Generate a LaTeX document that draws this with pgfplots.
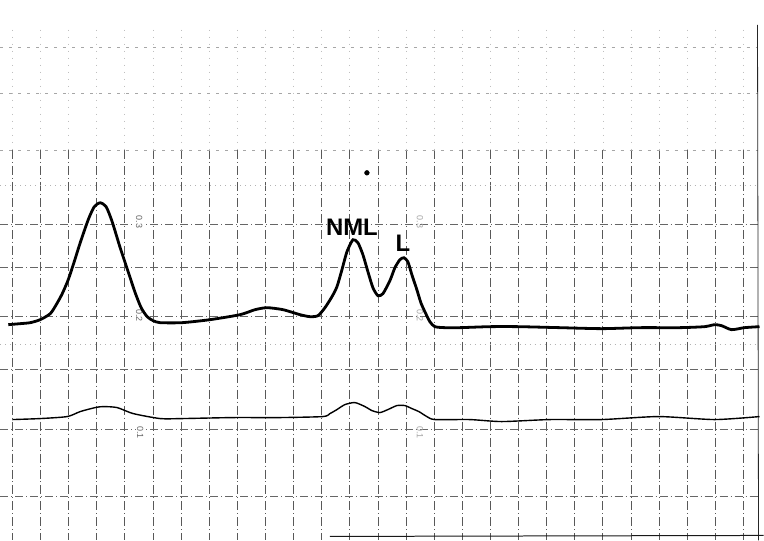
\documentclass[border=0pt]{standalone}
\usepackage{pgfplots}
\pgfplotsset{compat=1.18}
\usepackage{fontspec}
\newfontfamily\helv{Liberation Sans}
\begin{document}
\begin{tikzpicture}
\begin{axis}[
  width=764bp, height=541bp, scale only axis,
  xmin=0, xmax=764, ymin=0, ymax=541, y dir=reverse,
  axis lines=none, clip=false,
]
% background
\addplot[draw=none, fill=white, forget plot] coordinates {(0,0) (764,0) (764,541) (0,541)} -- cycle;
% vertical grid
\pgfplotsinvokeforeach{0,...,26}{
  \draw[black!25, dash pattern=on 1bp off 6bp, line width=0.6bp] (axis cs:{12+28.15*#1},30) -- (axis cs:{12+28.15*#1},150);
  \draw[black!65, dash pattern=on 9bp off 3bp on 1bp off 3bp, line width=0.7bp] (axis cs:{12+28.15*#1},150) -- (axis cs:{12+28.15*#1},541);
}
% horizontal grid
\pgfplotsinvokeforeach{47,93,150}{
  \draw[black!35, dash pattern=on 3bp off 6bp, line width=0.6bp] (axis cs:0,#1) -- (axis cs:758,#1);
}
\pgfplotsinvokeforeach{185,345}{
  \draw[black!30, dash pattern=on 1bp off 4bp, line width=0.5bp] (axis cs:0,#1) -- (axis cs:758,#1);
}
\pgfplotsinvokeforeach{225,268,317,370,430,497}{
  \draw[black!60, dash pattern=on 8bp off 3bp on 1bp off 3bp, line width=0.6bp] (axis cs:0,#1) -- (axis cs:758,#1);
}
% borders
\draw[black!85, line width=0.8bp] (axis cs:758,25) -- (axis cs:759,541);
\draw[black!90, line width=1bp] (axis cs:330,537) -- (axis cs:764,536);
% scale labels
\node[rotate=-90, font=\helv\fontsize{9}{10}\selectfont, text=black!60, fill=white, inner sep=1bp] at (axis cs:139,222) {0.3};
\node[rotate=-90, font=\helv\fontsize{9}{10}\selectfont, text=black!60, fill=white, inner sep=1bp] at (axis cs:139,316) {0.2};
\node[rotate=-90, font=\helv\fontsize{9}{10}\selectfont, text=black!60, fill=white, inner sep=1bp] at (axis cs:140,433) {0.1};
\node[rotate=-90, font=\helv\fontsize{9}{10}\selectfont, text=black!35] at (axis cs:420,222) {0.3};
\node[rotate=-90, font=\helv\fontsize{9}{10}\selectfont, text=black!35] at (axis cs:420,316) {0.2};
\node[rotate=-90, font=\helv\fontsize{9}{10}\selectfont, text=black!35] at (axis cs:420,433) {0.1};
% thick trace
\addplot[black, line width=2.8bp, smooth, tension=0.4] coordinates {
(8,325) (20,324) (30,323) (40,320) (50,314) (56,305) (62,294) (68,280) (74,262) (80,243) (88,220) (94,207) (100,203) (106,207) (112,222) (120,248) (128,272) (135,293) (141,308) (147,317) (153,321) (160,323) (182,323) (210,320) (240,315) (255,310) (267,308) (283,310) (300,315) (310,317) (318,316) (325,308) (332,297) (337,287) (342,270) (347,252) (353,240) (358,243) (363,255) (368,272) (373,288) (378,296) (383,294) (390,281) (395,268) (400,260) (404,258) (408,262) (412,275) (417,290) (421,303) (425,312) (430,322) (435,327) (445,328) (460,328) (490,327) (519,327) (560,328) (602,329) (640,328) (680,328) (705,327) (715,325) (722,326) (732,330) (745,328) (760,327)
};
% thin trace
\addplot[black, line width=1.4bp, smooth, tension=0.4] coordinates {
(12,420) (40,419) (67,417) (80,412) (95,408) (103,407) (117,408) (133,414) (160,419) (182,419) (233,418) (280,418) (323,417) (330,414) (337,410) (345,405) (355,403) (365,407) (372,411) (380,413) (388,410) (397,406) (405,406) (412,409) (419,412) (427,417) (435,420) (470,420) (502,422) (550,420) (602,420) (659,417) (715,420) (760,417)
};
% dot
\addplot[only marks, mark=*, mark size=2.4bp, black] coordinates {(367,173)};
% peak labels
\node[font=\helv\bfseries\fontsize{24}{28}\selectfont] at (axis cs:352,228) {NML};
\node[font=\helv\bfseries\fontsize{24}{28}\selectfont] at (axis cs:403,244) {L};
\end{axis}
\end{tikzpicture}
\end{document}
